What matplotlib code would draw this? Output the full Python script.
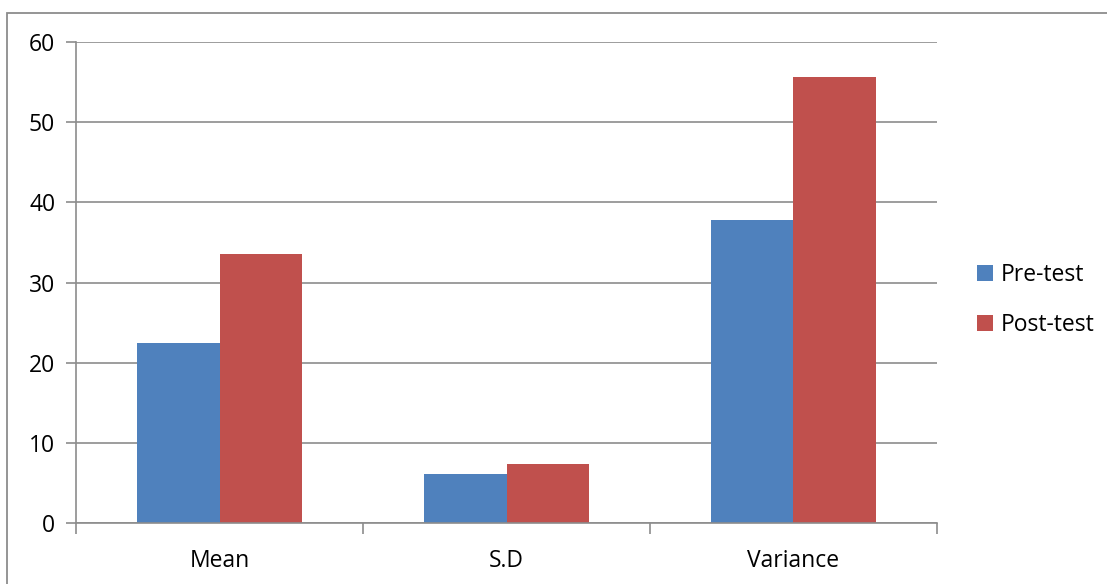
import numpy as np
import matplotlib.pyplot as plt
from matplotlib.patches import Rectangle

categories = ['Mean', 'S.D', 'Variance']
pre_test = [22.5, 6.1, 37.8]
post_test = [33.6, 7.4, 55.6]
yticks = [0, 10, 20, 30, 40, 50, 60]

plt.rcParams['font.family'] = ['Open Sans', 'DejaVu Sans']

fig = plt.figure(figsize=(11.07, 5.84), dpi=100)
ax = fig.add_axes([0.0687, 0.1045, 0.7777, 0.8235])

# outer chart border like excel (bottom/right run off the image)
fig.patches.append(Rectangle((7 / 1107, -0.1), 1.5, 0.1 + (584 - 13) / 584, transform=fig.transFigure,
                             fill=False, edgecolor='#8c8c8c', linewidth=1.3))

x = np.arange(len(categories))
w = 0.286
ax.bar(x - w / 2, pre_test, w, color='#4f81bd', label='Pre-test')
ax.bar(x + w / 2, post_test, w, color='#c0504d', label='Post-test')

ax.set_xlim(-0.5, 2.5)
ax.set_ylim(0, 60)
ax.set_yticks(yticks)
ax.yaxis.grid(True, color='#8c8c8c', linewidth=1.2)
ax.set_axisbelow(True)

ax.set_xticks(x)
ax.set_xticklabels(categories, fontsize=16.5)
ax.tick_params(axis='x', length=0, pad=19)
ax.set_xticks([-0.5, 0.5, 1.5, 2.5], minor=True)
ax.tick_params(axis='x', which='minor', length=8, width=1.2, color='#8c8c8c')
ax.tick_params(axis='y', labelsize=16.5, length=7, width=1.2, color='#8c8c8c', pad=8)

for s in ['top', 'right']:
    ax.spines[s].set_visible(False)
for s in ['left', 'bottom']:
    ax.spines[s].set_color('#8c8c8c')
    ax.spines[s].set_linewidth(1.2)

ax.legend(loc='center left', bbox_to_anchor=(1.022, 0.463), frameon=False, fontsize=16.5,
          handlelength=0.7, handleheight=0.7, handletextpad=0.35, labelspacing=1.15)

fig.savefig('out.png', dpi=100)
